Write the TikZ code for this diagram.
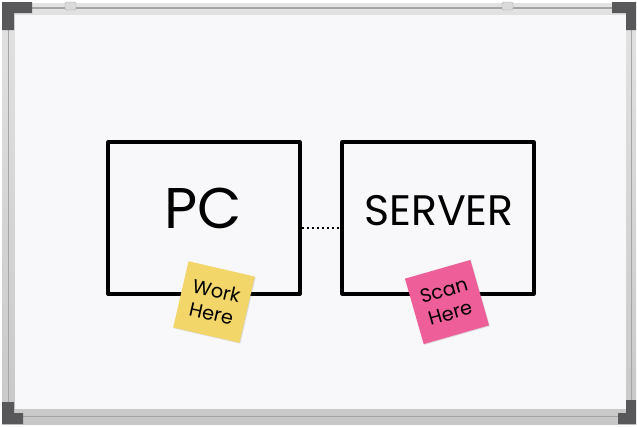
\documentclass[tikz,border=0pt]{standalone}
\usepackage{fontspec}
\setmainfont{Poppins}
\usetikzlibrary{shadows}

\definecolor{boardwhite}{RGB}{248,248,250}
\definecolor{railtop}{RGB}{226,226,226}
\definecolor{railbot}{RGB}{200,200,200}
\definecolor{railline}{RGB}{165,165,165}
\definecolor{cornergray}{RGB}{88,88,90}
\definecolor{clipgray}{RGB}{218,218,218}
\definecolor{noteyellow}{RGB}{242,214,106}
\definecolor{notepink}{RGB}{238,94,152}

\begin{document}
\begin{tikzpicture}[
    x=0.75pt, y=-0.75pt,
    box/.style={rectangle, draw, line width=2.3pt, line join=round, minimum width=144pt, minimum height=114pt, inner sep=0pt},
    boxtext/.style={inner sep=0pt, font=\fontsize{#1}{#1}\selectfont},
    note/.style={rectangle, minimum size=51pt, inner sep=0pt, align=center, font=\fontsize{14.5}{17.5}\selectfont, drop shadow={shadow xshift=0.6pt, shadow yshift=-0.6pt, opacity=0.25}},
    dotline/.style={line width=1.6pt, dash pattern=on 1.6pt off 2.2pt}
]
\useasboundingbox (0,0) rectangle (637,426);

% Rahmen
\shade[top color=railtop, bottom color=railbot] (2,3) rectangle (636,424);
\fill[boardwhite] (15,15) rectangle (626,409);
\draw[railline, line width=0.8pt] (30,8) -- (612,8);
\draw[railline, line width=0.5pt] (8,30) -- (8,402);
\draw[railline, line width=0.5pt] (631,30) -- (631,400);
\draw[railline, line width=0.5pt] (23,416) -- (618,416);
\draw[railline!60, line width=0.6pt] (15,409) -- (626,409);

% Ecken
\fill[cornergray] (2,2) -- (32,2) -- (32,13) -- (14,13) -- (14,30) -- (2,30) -- cycle;
\fill[cornergray] (612,2) -- (636,2) -- (636,30) -- (626,30) -- (626,13) -- (612,13) -- cycle;
\fill[cornergray] (2,402) -- (14,402) -- (14,413) -- (23,413) -- (23,424) -- (2,424) -- cycle;
\fill[cornergray] (626,400) -- (636,400) -- (636,424) -- (618,424) -- (618,413) -- (626,413) -- cycle;

% Klammern oben
\fill[clipgray, draw=railline, line width=0.3pt, rounded corners=1pt] (65,2) rectangle (76,10);
\fill[clipgray, draw=railline, line width=0.3pt, rounded corners=1pt] (502,2) rectangle (513,10);

% Boxen
\node[box] at (204,218) (pc) {};
\node[box] at (438,218) (server) {};
\node[boxtext=43] at (203,208) (pclabel) {PC};
\node[boxtext=32] at (439,211) (serverlabel) {SERVER};

% Verbindung
\draw[dotline] ([yshift=-7.5pt]pc.east) -- ([yshift=-7.5pt]server.west);

% Zettel
\node[note, fill=noteyellow, rotate=-13] at (214,302) (work) {Work\\Here};
\node[note, fill=notepink, rotate=16] at (447,302) (scan) {Scan\\Here};
\end{tikzpicture}
\end{document}
